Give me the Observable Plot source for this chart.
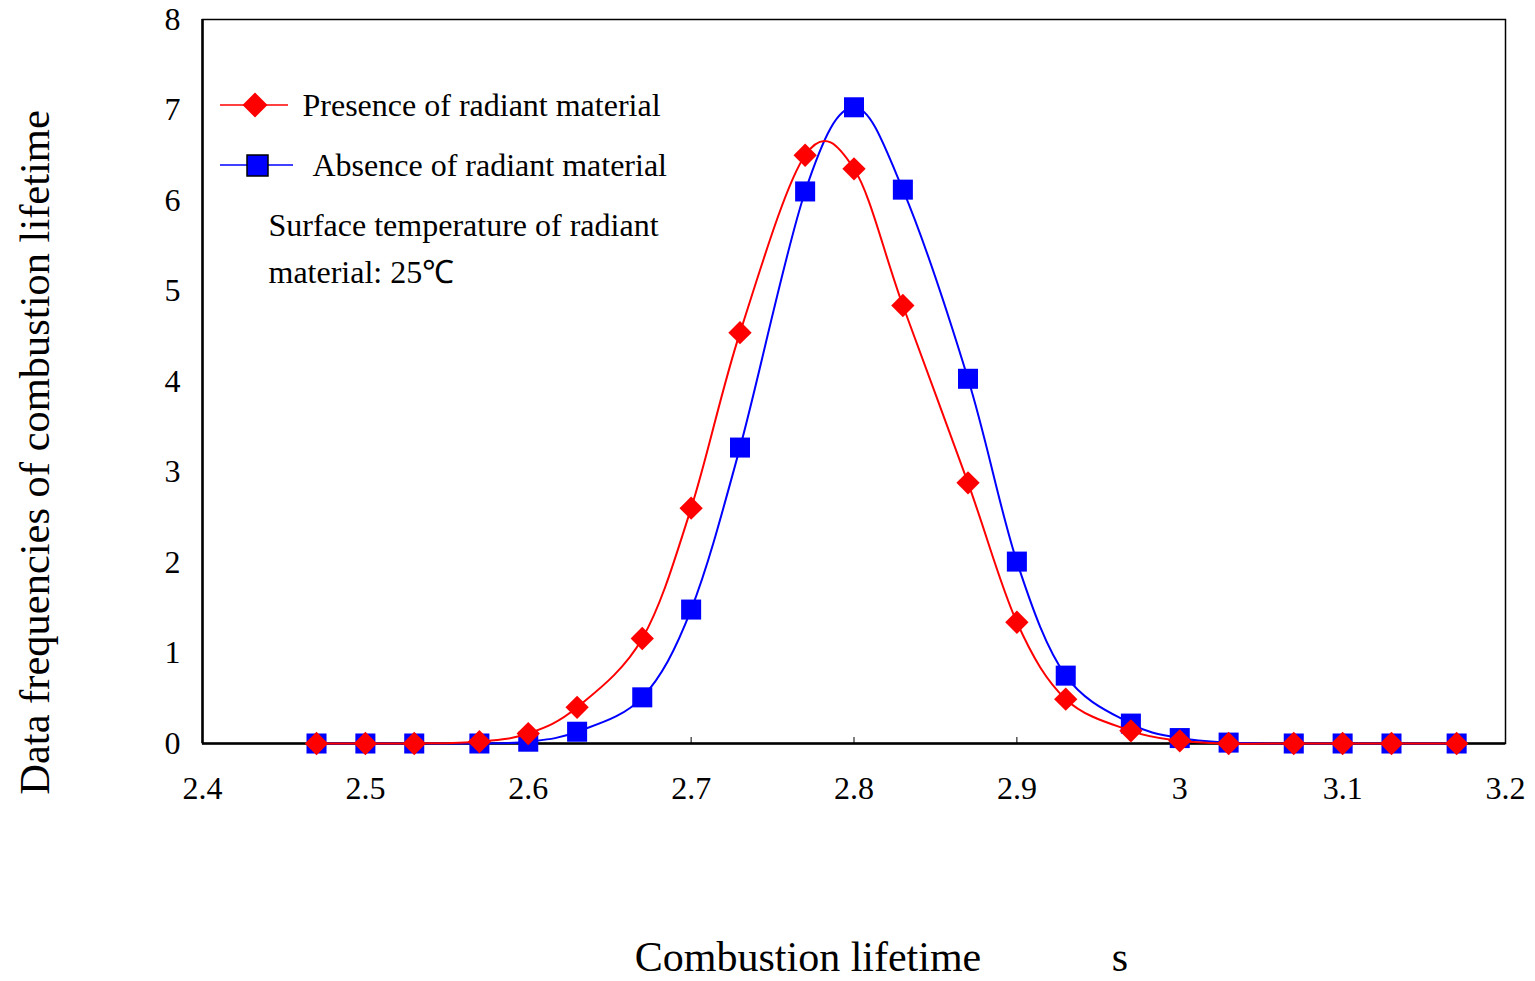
<!DOCTYPE html>
<html>
<head>
<meta charset="utf-8">
<script src="https://cdn.jsdelivr.net/npm/d3@7"></script>
<script src="https://cdn.jsdelivr.net/npm/@observablehq/plot@0.6"></script>
<style>
  html, body { margin: 0; padding: 0; background: #fff; }
  #chart svg { display: block; }
</style>
</head>
<body>
<div id="chart"></div>
<script>
// Combustion lifetime (s)
const lifetimes = [2.47, 2.5, 2.53, 2.57, 2.6, 2.63, 2.67, 2.7, 2.73, 2.77, 2.8, 2.83, 2.87, 2.9, 2.93, 2.97, 3.0, 3.03, 3.07, 3.1, 3.13, 3.17];
// Data frequencies: presence of radiant material
const presence = [0, 0, 0, 0.02, 0.11, 0.40, 1.16, 2.60, 4.54, 6.50, 6.35, 4.84, 2.88, 1.34, 0.49, 0.14, 0.03, 0, 0, 0, 0, 0];
// Data frequencies: absence of radiant material
const absence = [0, 0, 0, 0, 0.02, 0.13, 0.51, 1.48, 3.27, 6.10, 7.03, 6.12, 4.03, 2.01, 0.75, 0.22, 0.06, 0.01, 0, 0, 0, 0];
const xTicks = [2.4, 2.5, 2.6, 2.7, 2.8, 2.9, 3.0, 3.1, 3.2];
const yTicks = [0, 1, 2, 3, 4, 5, 6, 7, 8];
const seriesNames = ["Presence of radiant material", "Absence of radiant material"];
const noteLines = ["Surface temperature of radiant", "material: 25\u2103"];
const xLabel = "Combustion lifetime";
const xUnit = "s";
const yLabel = "Data frequencies of combustion lifetime";

const presenceData = lifetimes.map((x, i) => ({x, y: presence[i]}));
const absenceData = lifetimes.map((x, i) => ({x, y: absence[i]}));

const RED = "#ff0000", BLUE = "#0000ff";
const FONT = "'Liberation Serif', 'Times New Roman', serif";

function legendMark(index, scales, values, dimensions) {
  const g = d3.create("svg:g");
  const x0 = dimensions.marginLeft, y0 = dimensions.marginTop;
  // red entry
  g.append("line").attr("x1", x0 + 18).attr("x2", x0 + 86).attr("y1", y0 + 86).attr("y2", y0 + 86)
    .attr("stroke", RED).attr("stroke-width", 1.6);
  g.append("path").attr("d", d3.symbol(d3.symbolDiamond2, 400)())
    .attr("transform", `translate(${x0 + 53},${y0 + 86})`).attr("fill", RED);
  // blue entry
  g.append("line").attr("x1", x0 + 18).attr("x2", x0 + 91).attr("y1", y0 + 146).attr("y2", y0 + 146)
    .attr("stroke", BLUE).attr("stroke-width", 1.6);
  g.append("rect").attr("x", x0 + 45).attr("y", y0 + 136).attr("width", 21).attr("height", 21)
    .attr("fill", BLUE).attr("stroke", "#000").attr("stroke-width", 1.5);
  return g.node();
}

const chart = Plot.plot({
  width: 1535,
  height: 981,
  marginLeft: 202,
  marginRight: 30,
  marginTop: 19,
  marginBottom: 238,
  style: {fontFamily: FONT, fontSize: "32px", color: "#000", background: "#fff"},
  x: {domain: [2.4, 3.2]},
  y: {domain: [0, 8]},
  marks: [
    Plot.frame({stroke: "#000", strokeWidth: 1.5}),
    Plot.axisX({ticks: xTicks, tickSize: 0, tickPadding: 33, tickFormat: d => String(+d.toFixed(1)), fontSize: 32, label: null}),
    Plot.axisX({ticks: xTicks, tickSize: -6, text: null, label: null, strokeWidth: 1}),
    Plot.axisY({ticks: yTicks, tickSize: 0, tickPadding: 22, fontSize: 32, label: null}),
    Plot.ruleY([0], {stroke: "#000", strokeWidth: 2.5}),
    Plot.ruleX([2.4], {stroke: "#000", strokeWidth: 2.5}),
    Plot.line(absenceData, {x: "x", y: "y", stroke: BLUE, strokeWidth: 2, curve: "cardinal"}),
    Plot.dot(absenceData, {x: "x", y: "y", fill: BLUE, symbol: "square", r: 11.3}),
    Plot.line(presenceData, {x: "x", y: "y", stroke: RED, strokeWidth: 2, curve: "cardinal"}),
    Plot.dot(presenceData, {x: "x", y: "y", fill: RED, symbol: "diamond2", r: 10.5}),
    legendMark,
    Plot.text([seriesNames[0]], {frameAnchor: "top-left", dx: 100, dy: 86, text: d => d, textAnchor: "start", lineAnchor: "middle", fontSize: 32}),
    Plot.text([seriesNames[1]], {frameAnchor: "top-left", dx: 110, dy: 146, text: d => d, textAnchor: "start", lineAnchor: "middle", fontSize: 32}),
    Plot.text([noteLines[0]], {frameAnchor: "top-left", dx: 66, dy: 206, text: d => d, textAnchor: "start", lineAnchor: "middle", fontSize: 32, style: {wordSpacing: "5px"}}),
    Plot.text([noteLines[1]], {frameAnchor: "top-left", dx: 66, dy: 253, text: d => d, textAnchor: "start", lineAnchor: "middle", fontSize: 32}),
    Plot.text([xLabel], {frameAnchor: "bottom", dx: -46, dy: 214, text: d => d, textAnchor: "middle", lineAnchor: "middle", fontSize: 42}),
    Plot.text([xUnit], {frameAnchor: "bottom", dx: 266, dy: 214, text: d => d, textAnchor: "middle", lineAnchor: "middle", fontSize: 42}),
    Plot.text([yLabel], {frameAnchor: "left", dx: -167, dy: 71, rotate: -90, text: d => d, textAnchor: "middle", lineAnchor: "middle", fontSize: 42.5})
  ]
});
document.getElementById("chart").appendChild(chart);
</script>
</body>
</html>
